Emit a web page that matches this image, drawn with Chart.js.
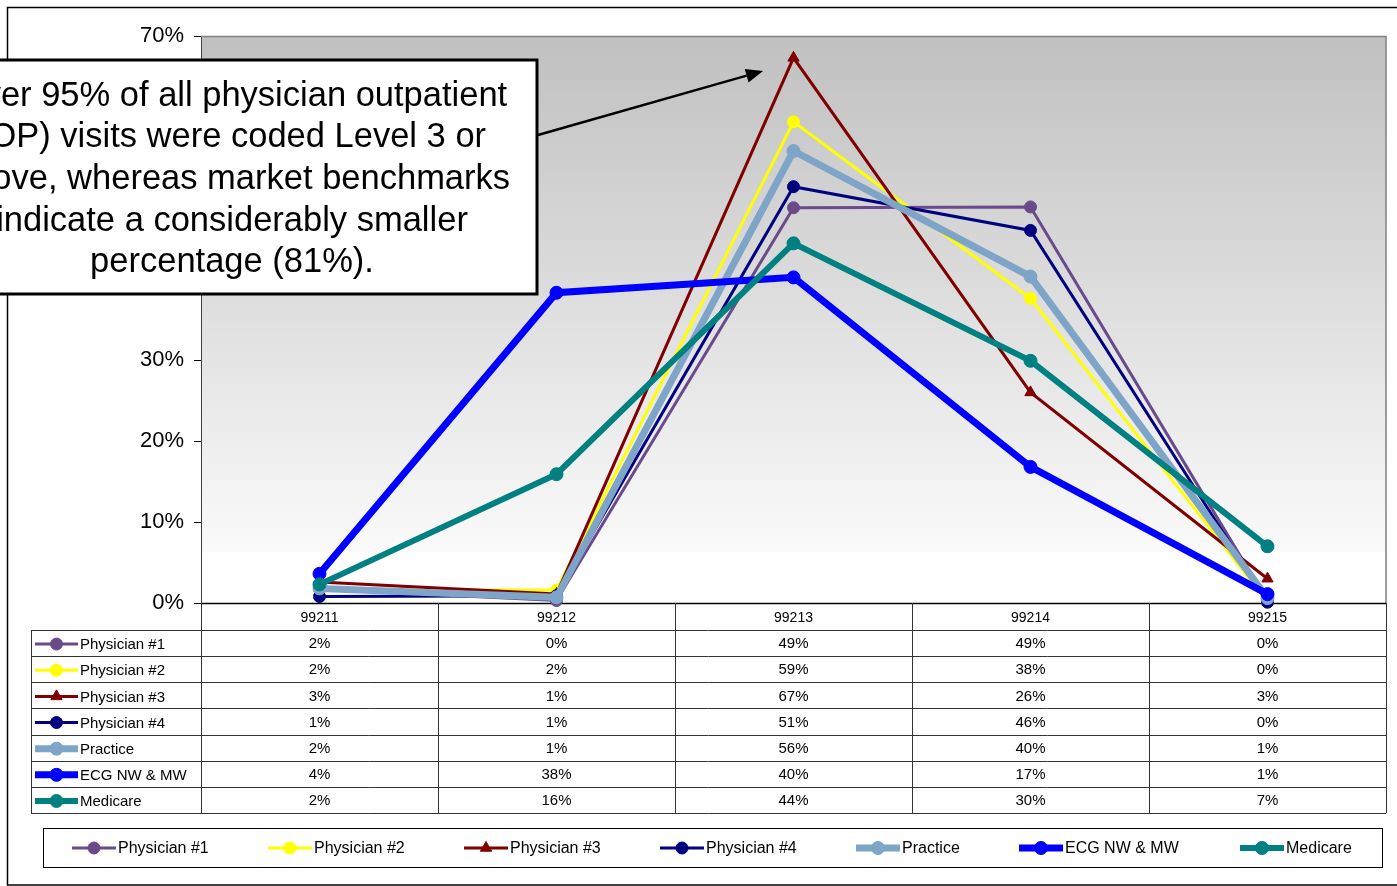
<!DOCTYPE html>
<html>
<head>
<meta charset="utf-8">
<script src="https://cdn.jsdelivr.net/npm/chart.js@4/dist/chart.umd.min.js"></script>
<style>
  html, body { margin: 0; padding: 0; background: #fff; overflow: hidden; }
  canvas { display: block; }
</style>
</head>
<body>
<canvas id="chart" width="1397" height="886"></canvas>
<script>
// E/M outpatient visit code distribution (percent of visits)
const categories = ['99211', '99212', '99213', '99214', '99215'];
const physician1 = [1.7, 0.3, 48.8, 48.9, 0.2];
const physician2 = [1.6, 1.6, 59.4, 37.6, 0.1];
const physician3 = [2.6, 1.1, 67.3, 26.0, 3.0];
const physician4 = [0.8, 0.9, 51.4, 46.0, 0.1];
const practice   = [1.8, 0.7, 55.8, 40.3, 0.6];
const ecgNwMw    = [3.6, 38.3, 40.2, 16.8, 1.1];
const medicare   = [2.3, 15.9, 44.4, 29.9, 7.0];
const seriesNames = ['Physician #1', 'Physician #2', 'Physician #3', 'Physician #4', 'Practice', 'ECG NW & MW', 'Medicare'];
const yMax = 70;
const yStep = 10;
const calloutLines = [
  'Over 95% of all physician outpatient',
  '(OP) visits were coded Level 3 or',
  'above, whereas market benchmarks',
  'indicate a considerably smaller',
  'percentage (81%).'
];

const seriesValues = [physician1, physician2, physician3, physician4, practice, ecgNwMw, medicare];

// Line styling per series
const seriesStyle = [
  { color: '#6B4A8B', width: 3, radius: 6,   shape: 'circle' },
  { color: '#FFFF00', width: 3, radius: 6,   shape: 'circle' },
  { color: '#800000', width: 3, radius: 6.5, shape: 'triangle' },
  { color: '#000080', width: 3, radius: 6,   shape: 'circle' },
  { color: '#7EA4C8', width: 7, radius: 6.5, shape: 'circle' },
  { color: '#0000FF', width: 7, radius: 6.5, shape: 'circle' },
  { color: '#008080', width: 6, radius: 6.5, shape: 'circle' }
];

const FONT = "Arial, 'Liberation Sans', sans-serif";

function drawKey(ctx, ds, x1, x2, y) {
  ctx.save();
  ctx.strokeStyle = ds.borderColor;
  ctx.lineWidth = ds.borderWidth;
  ctx.lineCap = 'butt';
  ctx.beginPath();
  ctx.moveTo(x1, y);
  ctx.lineTo(x2, y);
  ctx.stroke();
  ctx.fillStyle = ds.pointBackgroundColor;
  ctx.strokeStyle = ds.pointBorderColor;
  ctx.lineWidth = 1;
  Chart.helpers.drawPoint(ctx, { pointStyle: ds.pointStyle, radius: ds.pointRadius, borderWidth: 1, rotation: 0 }, (x1 + x2) / 2, y);
  ctx.restore();
}

const decorations = {
  id: 'decorations',
  beforeDraw(chart) {
    const { ctx, chartArea: a } = chart;
    ctx.save();
    ctx.fillStyle = '#fff';
    ctx.fillRect(0, 0, chart.width, chart.height);
    // plot background: grey fading to white near the baseline
    const fadeEnd = 552;
    const g = ctx.createLinearGradient(0, a.top, 0, fadeEnd);
    g.addColorStop(0, '#C0C0C0');
    g.addColorStop(1, '#FAFAFA');
    ctx.fillStyle = g;
    ctx.fillRect(a.left, a.top, a.right - a.left, fadeEnd - a.top);
    ctx.fillStyle = '#FFFFFF';
    ctx.fillRect(a.left, fadeEnd, a.right - a.left, a.bottom - fadeEnd);
    // outer frame
    ctx.strokeStyle = '#000';
    ctx.lineWidth = 1.5;
    ctx.strokeRect(7.5, 7.5, 1400, 877.5);
    ctx.restore();
  },
  beforeDatasetsDraw(chart) {
    const { ctx, chartArea: a } = chart;
    const xs = chart.scales.x;
    const datasets = chart.data.datasets;
    ctx.save();
    // plot frame: grey top and right edges
    ctx.strokeStyle = '#808080';
    ctx.lineWidth = 1.5;
    ctx.beginPath();
    ctx.moveTo(a.left, a.top + 0.5);
    ctx.lineTo(a.right, a.top + 0.5);
    ctx.lineTo(a.right, a.bottom);
    ctx.stroke();

    // data table under the axis
    const centers = categories.map((c, i) => xs.getPixelForValue(i));
    const half = (centers[1] - centers[0]) / 2;
    const tableLeft = 31;
    const headTop = a.bottom;
    const headBottom = a.bottom + 27;
    const rowH = 26.15;
    const tableBottom = headBottom + rowH * datasets.length;

    ctx.strokeStyle = '#000';
    ctx.lineWidth = 1.5;
    ctx.beginPath();
    ctx.moveTo(a.left, headTop + 0.5);
    ctx.lineTo(a.right, headTop + 0.5);
    ctx.stroke();

    ctx.strokeStyle = '#333';
    ctx.lineWidth = 1;
    ctx.beginPath();
    for (let r = 0; r <= datasets.length; r++) {
      const y = Math.round(headBottom + r * rowH) + 0.5;
      ctx.moveTo(tableLeft, y);
      ctx.lineTo(a.right, y);
    }
    ctx.moveTo(tableLeft + 0.5, headBottom);
    ctx.lineTo(tableLeft + 0.5, tableBottom);
    const bounds = [a.left].concat(centers.map(c => c + half));
    bounds.forEach((bx, i) => {
      const x = Math.round(i === bounds.length - 1 ? a.right : bx) + 0.5;
      ctx.moveTo(x, headTop);
      ctx.lineTo(x, tableBottom);
    });
    ctx.stroke();

    ctx.fillStyle = '#000';
    ctx.textAlign = 'center';
    ctx.textBaseline = 'middle';
    ctx.font = '14px ' + FONT;
    categories.forEach((c, i) => ctx.fillText(c, centers[i], headTop + 15));

    datasets.forEach((ds, r) => {
      const yc = headBottom + r * rowH + rowH / 2 + 1;
      drawKey(ctx, ds, 35, 78, yc);
      ctx.fillStyle = '#000';
      ctx.font = '15px ' + FONT;
      ctx.textAlign = 'left';
      ctx.fillText(ds.label, 80, yc + 1);
      ctx.textAlign = 'center';
      ds.data.forEach((v, i) => ctx.fillText(Math.round(v) + '%', centers[i], yc));
    });

    // legend box
    ctx.strokeStyle = '#000';
    ctx.lineWidth = 1;
    ctx.strokeRect(43.5, 828.5, 1339, 39);
    const legendText = [118, 314, 510, 706, 902, 1065, 1286];
    datasets.forEach((ds, i) => {
      const tx = legendText[i];
      drawKey(ctx, ds, tx - 46, tx - 2, 848);
      ctx.fillStyle = '#000';
      ctx.font = '16px ' + FONT;
      ctx.textAlign = 'left';
      ctx.textBaseline = 'middle';
      ctx.fillText(ds.label, tx, 849);
    });
    ctx.restore();
  },
  afterDatasetsDraw(chart) {
    const { ctx } = chart;
    ctx.save();
    // callout box
    const boxRight = 537, boxTop = 60, boxBottom = 294, center = 232;
    ctx.fillStyle = '#fff';
    ctx.fillRect(-20, boxTop, boxRight + 20, boxBottom - boxTop);
    ctx.strokeStyle = '#000';
    ctx.lineWidth = 3;
    ctx.strokeRect(-20, boxTop, boxRight + 20, boxBottom - boxTop);
    ctx.fillStyle = '#000';
    ctx.font = '34.5px ' + FONT;
    ctx.textAlign = 'center';
    ctx.textBaseline = 'middle';
    calloutLines.forEach((t, i) => ctx.fillText(t, center, 96 + i * 41.7));

    // pointer arrow toward the 99213 peak
    const x0 = boxRight + 1, y0 = 135, x1 = 763, y1 = 71;
    const ang = Math.atan2(y1 - y0, x1 - x0);
    const headLen = 17, headW = 7;
    const bx = x1 - headLen * Math.cos(ang), by = y1 - headLen * Math.sin(ang);
    ctx.strokeStyle = '#000';
    ctx.lineWidth = 2.5;
    ctx.beginPath();
    ctx.moveTo(x0, y0);
    ctx.lineTo(bx, by);
    ctx.stroke();
    ctx.beginPath();
    ctx.moveTo(x1, y1);
    ctx.lineTo(bx + headW * Math.sin(ang), by - headW * Math.cos(ang));
    ctx.lineTo(bx - headW * Math.sin(ang), by + headW * Math.cos(ang));
    ctx.closePath();
    ctx.fillStyle = '#000';
    ctx.fill();
    ctx.restore();
  }
};

const datasets = seriesValues.map((vals, i) => ({
  label: seriesNames[i],
  data: vals,
  borderColor: seriesStyle[i].color,
  backgroundColor: seriesStyle[i].color,
  borderWidth: seriesStyle[i].width,
  pointStyle: seriesStyle[i].shape,
  pointRadius: seriesStyle[i].radius,
  pointBackgroundColor: seriesStyle[i].color,
  pointBorderColor: seriesStyle[i].color,
  pointBorderWidth: 1,
  tension: 0,
  fill: false,
  clip: false,
  order: seriesValues.length - 1 - i
}));

new Chart(document.getElementById('chart'), {
  type: 'line',
  data: { labels: categories, datasets },
  options: {
    responsive: false,
    animation: false,
    devicePixelRatio: 1,
    layout: { padding: { left: 0, top: 36, right: 11, bottom: 283 } },
    plugins: { legend: { display: false }, tooltip: { enabled: false } },
    scales: {
      x: { display: false, offset: true },
      y: {
        min: 0,
        max: yMax,
        ticks: {
          stepSize: yStep,
          color: '#000',
          padding: 10,
          font: { size: 22, family: FONT },
          callback: v => v + '%'
        },
        grid: { drawOnChartArea: false, drawTicks: true, tickLength: 7, color: '#000' },
        border: { display: true, color: '#404040', width: 1 },
        afterFit: s => { s.width = 201; }
      }
    }
  },
  plugins: [decorations]
});
</script>
</body>
</html>
